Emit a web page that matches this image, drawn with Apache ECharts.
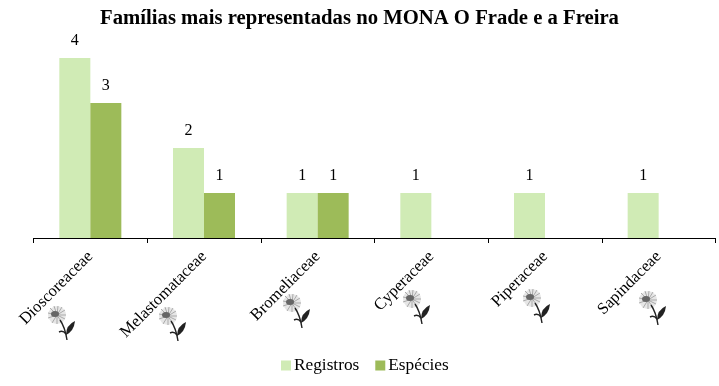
<!DOCTYPE html>
<html>
<head>
<meta charset="utf-8">
<script src="https://cdn.jsdelivr.net/npm/echarts@6/dist/echarts.min.js"></script>
<style>
  html, body { margin: 0; background: #fff; }
  #chart { width: 719px; height: 386px; }
</style>
</head>
<body>
<div id="chart"></div>
<script>
const categories = ['Dioscoreaceae', 'Melastomataceae', 'Bromeliaceae', 'Cyperaceae', 'Piperaceae', 'Sapindaceae']
const registros = [4, 2, 1, 1, 1, 1]
const especies = [3, 1, 1, null, null, null]

const font = '"Liberation Serif", "Times New Roman", serif'

// little flower drawn next to each family name
const flowerSvg = `<svg xmlns="http://www.w3.org/2000/svg" width="30" height="36" viewBox="0 0 30 36">
<circle cx="10" cy="10" r="9" fill="#e6e6e6"/>
<g stroke="#aaa" stroke-width="1" fill="none">
<path d="M10 10L11 1M10 10L15 2M10 10L18 5M10 10L19 10M10 10L18 14M10 10L15 18M10 10L10 19M10 10L5 18M10 10L1 13M10 10L1 8M10 10L3 3M10 10L7 1"/>
</g>
<ellipse cx="8" cy="9" rx="4" ry="3" fill="#666"/>
<g stroke="#222" fill="none" stroke-width="1.4">
<path d="M13 15Q18 22 20 35"/>
<path d="M12 27Q16 25 19 29"/>
</g>
<path d="M19 30Q19 20 28 16Q27 26 19 30Z" fill="#222"/>
</svg>`
const flowerImage = 'data:image/svg+xml;charset=utf-8,' + encodeURIComponent(flowerSvg)
const flowerSpots = [[47, 305], [158, 306], [282, 293], [402, 289], [522, 288], [638, 290]]

const chart = echarts.init(document.getElementById('chart'))

chart.setOption({
  animation: false,
  backgroundColor: '#fff',
  textStyle: { fontFamily: font },
  title: {
    text: 'Famílias mais representadas no MONA O Frade e a Freira',
    left: 'center',
    top: 3,
    textStyle: { fontFamily: font, fontSize: 20.7, fontWeight: 'bold', color: '#000' },
  },
  legend: {
    bottom: 7,
    left: 276,
    itemWidth: 10,
    itemHeight: 10,
    itemGap: 16,
    icon: 'rect',
    textStyle: { fontFamily: font, fontSize: 17.3, color: '#000', padding: [0, 0, 0, -2] },
    data: ['Registros', 'Espécies'],
  },
  grid: { left: 33.5, right: 3.5, top: 58, bottom: 148 },
  xAxis: {
    type: 'category',
    data: categories,
    axisLine: { lineStyle: { color: '#000', width: 1 } },
    axisTick: { show: true, length: 5, lineStyle: { color: '#000' } },
    axisLabel: { rotate: 45, interval: 0, margin: 16, fontSize: 16.5, fontFamily: font, color: '#000' },
  },
  yAxis: { type: 'value', min: 0, max: 4, show: false, splitLine: { show: false } },
  series: [
    {
      name: 'Registros',
      type: 'bar',
      data: registros,
      barWidth: 31,
      barGap: 0,
      itemStyle: { color: '#d0ebb5' },
      label: { show: true, position: 'top', distance: 9, fontSize: 16, fontFamily: font, color: '#000' },
    },
    {
      name: 'Espécies',
      type: 'bar',
      data: especies,
      barWidth: 31,
      barGap: 0,
      itemStyle: { color: '#9dbb59' },
      label: { show: true, position: 'top', distance: 9, fontSize: 16, fontFamily: font, color: '#000' },
    },
  ],
  graphic: flowerSpots.map(([x, y]) => ({
    type: 'image',
    x,
    y,
    silent: true,
    style: { image: flowerImage, width: 30, height: 36 },
  })),
})
</script>
</body>
</html>
